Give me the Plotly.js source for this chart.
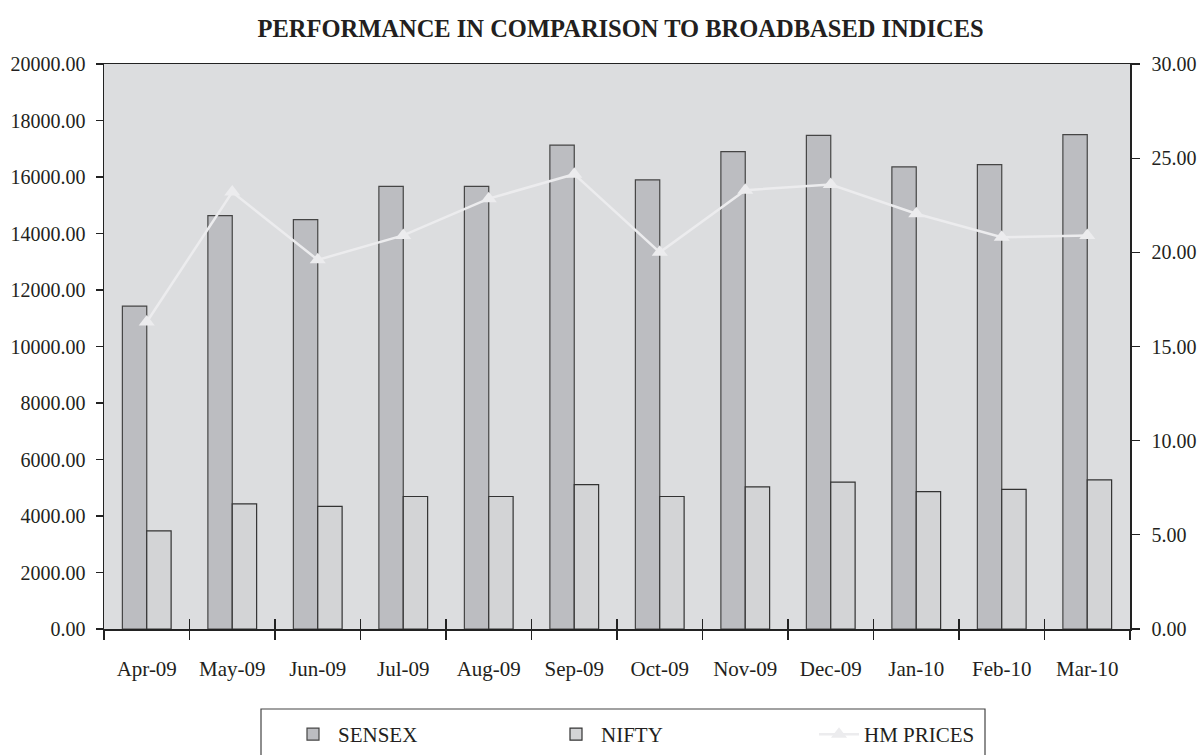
<!DOCTYPE html>
<html>
<head>
<meta charset="utf-8">
<script src="https://cdn.plot.ly/plotly-3.0.1.min.js"></script>
<style>html,body{margin:0;padding:0;background:#fff;}#chart{width:1198px;height:755px;}</style>
</head>
<body>
<div id="chart"></div>
<script>
const months = ['Apr-09','May-09','Jun-09','Jul-09','Aug-09','Sep-09','Oct-09','Nov-09','Dec-09','Jan-10','Feb-10','Mar-10'];
const sensex = [11430, 14630, 14490, 15670, 15670, 17130, 15900, 16900, 17470, 16360, 16440, 17500];
const nifty = [3470, 4430, 4340, 4690, 4690, 5110, 4690, 5030, 5200, 4860, 4940, 5280];
const hmPrices = [16.3, 23.2, 19.6, 20.9, 22.85, 24.15, 20.0, 23.3, 23.6, 22.05, 20.8, 20.9];
const leftTicks = [0, 2000, 4000, 6000, 8000, 10000, 12000, 14000, 16000, 18000, 20000];
const rightTicks = [0, 5, 10, 15, 20, 25, 30];

const ink = '#231f20';
const fam = 'Liberation Serif, serif';
const yfnt = {family: fam, size: 20, color: ink};
const xfnt = {family: fam, size: 21, color: ink};

const traces = [
  {type:'bar', name:'SENSEX', x: months, y: sensex,
   marker:{color:'#bcbdc1', line:{color:'#454545', width:1.2}}},
  {type:'bar', name:'NIFTY', x: months, y: nifty,
   marker:{color:'#d3d4d6', line:{color:'#333333', width:1.2}}},
  {type:'scatter', mode:'lines+markers', name:'HM PRICES', x: months, y: hmPrices, yaxis:'y2',
   line:{color:'#ececee', width:2.5}, marker:{symbol:'triangle-up', size:14, color:'#ececee'}},
  // invisible helper trace that activates the inner-tick axis
  {type:'scatter', x:[0], y:[0], xaxis:'x2', mode:'markers', marker:{opacity:0}, showlegend:false, hoverinfo:'skip'}
];

const layout = {
  width:1198, height:755,
  margin:{l:104, r:68, t:64, b:126, pad:0, autoexpand:false},
  paper_bgcolor:'#ffffff', plot_bgcolor:'#dcdddf',
  font: yfnt,
  title:{text:'<b>PERFORMANCE IN COMPARISON TO BROADBASED INDICES</b>', x:0.518, xanchor:'center', y:0.963, yanchor:'middle',
         font:{family: fam, size:24.5, color:ink}},
  barmode:'group', bargap:0.43, bargroupgap:0,
  showlegend:true,
  legend:{orientation:'h', x:(288-104)/1026, xanchor:'left', y:-(714-629)/565, yanchor:'top',
          borderwidth:0, bgcolor:'rgba(0,0,0,0)',
          entrywidth:208, entrywidthmode:'pixels', itemwidth:40,
          font:{family: fam, size:21, color:ink}},
  shapes:[{type:'rect', xref:'paper', yref:'paper',
           x0:(261-104)/1026, x1:(985-104)/1026, y0:(629-709)/565, y1:(629-770)/565,
           line:{color:'#444', width:1.2}, fillcolor:'rgba(0,0,0,0)', layer:'above'}],
  xaxis:{type:'category', categoryorder:'array', categoryarray: months, range:[-0.5, 11.5], autorange:false,
         showline:true, linecolor:'#222', linewidth:1.5, mirror:true,
         ticks:'outside', ticklen:9, tickcolor:'#222', tickwidth:1.2,
         tickson:'boundaries', showgrid:false, zeroline:false, automargin:false,
         tickfont: xfnt, ticklabelstandoff:20},
  xaxis2:{overlaying:'x', anchor:'y', side:'bottom', range:[-0.5, 11.5], autorange:false,
          tick0:-0.5, dtick:1, ticks:'inside', ticklen:10, tickcolor:'#222', tickwidth:1.2, automargin:false,
          showticklabels:false, showgrid:false, zeroline:false, showline:false, fixedrange:true},
  yaxis:{range:[0, 20000], autorange:false, tickvals: leftTicks, tickformat:'.2f',
         showline:true, linecolor:'#222', linewidth:1.5, mirror:true,
         ticks:'outside', ticklen:7, tickcolor:'#222', tickwidth:1.2, automargin:false,
         showgrid:false, zeroline:false, tickfont: yfnt, ticklabelstandoff:6},
  yaxis2:{range:[0, 30], autorange:false, tickvals: rightTicks, tickformat:'.2f', overlaying:'y', side:'right',
          showline:true, linecolor:'#222', linewidth:1.5, automargin:false,
          ticks:'outside', ticklen:8, tickcolor:'#222', tickwidth:1.2,
          showgrid:false, zeroline:false, tickfont: yfnt, ticklabelstandoff:8}
};

Plotly.newPlot('chart', traces, layout, {displayModeBar:false, staticPlot:true});
</script>
</body>
</html>
